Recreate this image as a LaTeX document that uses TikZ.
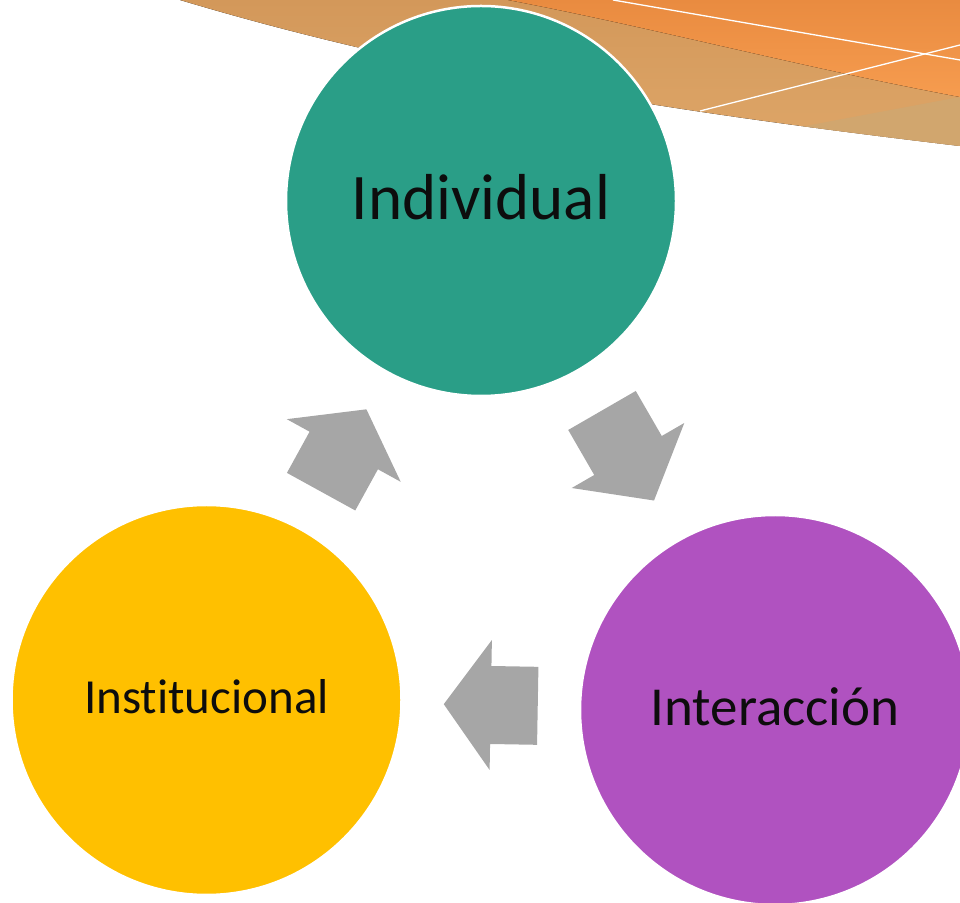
\documentclass[tikz,border=0pt]{standalone}
\usepackage{fontspec}
\setmainfont{Carlito}[Ligatures={NoCommon,NoRequired,NoContextual}]
\usetikzlibrary{calc}
\definecolor{verde}{HTML}{2A9E87}
\definecolor{amarillo}{HTML}{FFC000}
\definecolor{morado}{HTML}{B052C0}
\definecolor{gris}{HTML}{A6A6A6}
\definecolor{tanA}{HTML}{D3985A}
\definecolor{tanB}{HTML}{DEA668}
\definecolor{tanC}{HTML}{D1A66E}
\definecolor{naranjaA}{HTML}{E98B40}
\definecolor{naranjaB}{HTML}{F69C4F}
\tikzset{
  circulo/.style={circle, minimum size=390pt, inner sep=0pt, draw=white, line width=2.5pt, text=black!95, text depth=0pt},
  flecha/.style={fill=gris}
}
% block arrow half way between two nodes, #3 = length of shaft and of head
\def\flecha(#1)(#2)(#3){\fill[flecha] let \p1=(#1), \p2=(#2), \n1={atan2(\y2-\y1,\x2-\x1)}, \p3=($(\p1)!0.5!(\p2)$) in
  ($(\p3)+(\n1+180:#3)+(\n1+90:39)$) -- ($(\p3)+(\n1+90:39)$) -- ($(\p3)+(\n1+90:65)$) -- ($(\p3)+(\n1:#3)$)
  -- ($(\p3)+(\n1-90:65)$) -- ($(\p3)+(\n1-90:39)$) -- ($(\p3)+(\n1+180:#3)+(\n1-90:39)$) -- cycle;}

\begin{document}
\begin{tikzpicture}[x=1pt, y=1pt]
			\clip (0,0) rectangle (960,902);
			%%%%% top band %%%%%
			\fill[top color=tanA, bottom color=tanB] (180,902) .. controls (440,824) and (700,787) .. (960,756) -- (960,902) -- cycle;
			\begin{scope}
				\clip (180,902) .. controls (440,824) and (700,787) .. (960,756) -- (960,902) -- cycle;
				\fill[tanC] (700,756.25) -- (960,805) -- (960,700) -- (700,700) -- cycle;
			\end{scope}
			\fill[top color=naranjaA, bottom color=naranjaB] (508,902) .. controls (650,875) and (800,835) .. (960,805) -- (960,902) -- cycle;
			\draw[white, line width=1.3pt] (613,902) -- (960,842);
			\draw[white, line width=1.3pt] (700,791) -- (960,857);
			
			%%%%% circles %%%%%
			\node[circulo, fill=verde, font=\fontsize{65}{65}\selectfont, text height=37pt] (indiv) at (481,701) {Individual};
			\node[circulo, fill=amarillo, font=\fontsize{49}{49}\selectfont, text height=26pt] (instit) at (206.5,202) {Institucional};
			\node[circulo, fill=morado, font=\fontsize{55}{55}\selectfont, text height=30pt] (inter) at (775,192) {Interacción};
			
			%%%%% arrows %%%%%
			\flecha(indiv)(inter)(52)
			\flecha(inter)(instit)(47)
			\flecha(instit)(indiv)(47)
\end{tikzpicture}
\end{document}
